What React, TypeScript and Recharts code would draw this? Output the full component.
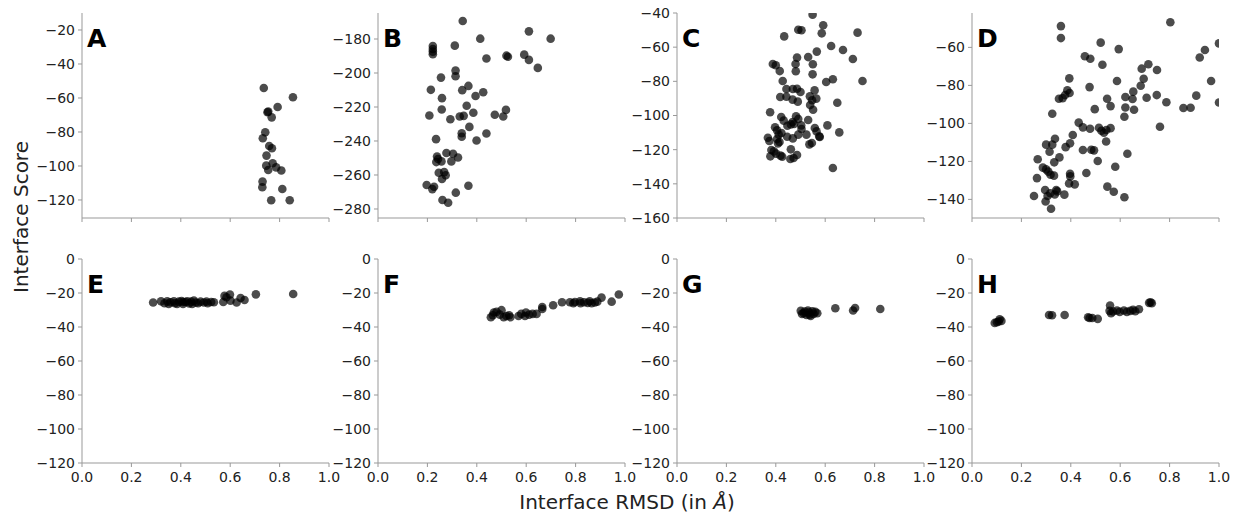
import { ScatterChart, Scatter, XAxis, YAxis } from 'recharts'

// Interface RMSD (Å) vs interface score, one array per panel: [rmsd, score]
const panelA: [number, number][] = [
  [0.736, -54.1], [0.854, -59.6], [0.792, -65.3], [0.751, -68.4], [0.754, -68.0], [0.768, -71.4],
  [0.742, -80.2], [0.732, -83.7], [0.758, -88.2], [0.769, -89.6], [0.747, -93.9], [0.746, -99.8],
  [0.772, -98.4], [0.754, -102.4], [0.786, -100.8], [0.807, -102.7], [0.731, -109.2], [0.730, -112.5],
  [0.811, -113.5], [0.766, -120.2], [0.841, -120.2],
]

const panelB: [number, number][] = [
  [0.343, -169.4], [0.611, -175.5], [0.699, -179.8], [0.414, -179.8], [0.222, -184.1], [0.222, -185.9],
  [0.222, -187.4], [0.222, -189.0], [0.311, -183.9], [0.439, -191.5], [0.520, -189.8], [0.526, -190.4],
  [0.592, -189.2], [0.611, -192.3], [0.647, -197.0], [0.314, -198.6], [0.314, -201.9], [0.255, -202.7],
  [0.214, -209.9], [0.341, -210.1], [0.366, -207.6], [0.426, -211.3], [0.395, -213.5], [0.259, -214.8],
  [0.359, -219.3], [0.258, -221.5], [0.208, -225.0], [0.293, -227.2], [0.331, -225.6], [0.347, -225.2],
  [0.386, -223.4], [0.473, -224.6], [0.507, -225.6], [0.518, -221.7], [0.370, -231.7], [0.339, -235.4],
  [0.339, -237.5], [0.439, -235.6], [0.235, -238.9], [0.399, -239.7], [0.277, -247.1], [0.304, -247.5],
  [0.324, -249.7], [0.239, -249.1], [0.243, -250.6], [0.236, -252.4], [0.257, -252.0], [0.297, -252.0],
  [0.246, -258.7], [0.268, -258.3], [0.274, -260.2], [0.259, -262.4], [0.197, -265.9], [0.227, -266.9],
  [0.220, -268.3], [0.366, -266.3], [0.315, -270.4], [0.261, -274.7], [0.284, -276.3],
]

const panelC: [number, number][] = [
  [0.549, -41.0], [0.592, -47.2], [0.491, -49.8], [0.504, -50.1], [0.586, -51.9], [0.731, -51.5],
  [0.434, -53.7], [0.624, -59.3], [0.672, -61.7], [0.566, -62.6], [0.531, -65.8], [0.486, -66.1],
  [0.712, -66.9], [0.480, -69.9], [0.550, -70.0], [0.388, -69.9], [0.400, -70.6], [0.416, -74.0],
  [0.481, -74.1], [0.549, -75.9], [0.631, -78.8], [0.604, -80.4], [0.751, -79.8], [0.428, -79.8],
  [0.443, -84.5], [0.469, -84.5], [0.486, -84.3], [0.500, -86.2], [0.557, -85.3], [0.418, -89.2],
  [0.443, -89.0], [0.538, -88.8], [0.564, -90.1], [0.468, -90.7], [0.489, -91.9], [0.547, -91.1],
  [0.649, -92.5], [0.539, -93.9], [0.551, -96.6], [0.377, -98.1], [0.422, -100.9], [0.482, -100.5],
  [0.432, -103.0], [0.468, -103.8], [0.491, -102.0], [0.531, -102.6], [0.461, -105.2], [0.447, -106.0],
  [0.474, -105.0], [0.503, -105.8], [0.609, -105.8], [0.397, -106.9], [0.504, -107.9], [0.558, -107.3],
  [0.405, -108.7], [0.565, -109.3], [0.423, -110.2], [0.657, -109.9], [0.412, -111.2], [0.491, -111.2],
  [0.524, -111.2], [0.576, -112.2], [0.578, -112.6], [0.446, -112.4], [0.469, -113.4], [0.368, -113.0],
  [0.374, -114.9], [0.405, -113.8], [0.415, -115.5], [0.409, -116.3], [0.546, -116.1], [0.536, -116.9],
  [0.461, -119.8], [0.382, -120.2], [0.392, -121.0], [0.401, -122.3], [0.378, -123.9], [0.419, -123.5],
  [0.486, -123.1], [0.459, -125.5], [0.472, -124.9], [0.631, -130.7], [0.426, -124.1],
]

const panelD: [number, number][] = [
  [0.360, -48.8], [0.360, -55.1], [0.803, -46.8], [0.521, -57.5], [0.594, -60.9], [1.0, -57.9],
  [0.943, -61.4], [0.922, -65.3], [0.457, -64.7], [0.479, -66.0], [0.528, -69.1], [0.714, -68.9],
  [0.687, -71.2], [0.749, -71.9], [0.695, -76.5], [0.394, -76.3], [0.587, -77.7], [0.968, -77.7],
  [0.683, -80.2], [0.476, -80.9], [0.386, -82.6], [0.395, -84.0], [0.653, -83.3], [0.377, -85.1],
  [0.352, -87.0], [0.547, -87.0], [0.621, -86.1], [0.650, -87.2], [0.707, -86.5], [0.748, -85.1],
  [0.908, -85.4], [0.367, -86.7], [0.561, -90.9], [0.787, -88.9], [0.856, -91.9], [0.885, -91.8],
  [1.0, -89.0], [0.497, -92.5], [0.621, -91.6], [0.656, -92.8], [0.325, -94.9], [0.617, -96.5],
  [0.761, -101.8], [0.432, -99.6], [0.449, -102.1], [0.478, -102.8], [0.514, -102.3], [0.524, -103.9],
  [0.544, -103.5], [0.561, -102.5], [0.534, -104.9], [0.408, -106.1], [0.336, -108.1], [0.397, -110.5],
  [0.300, -111.2], [0.325, -111.2], [0.379, -112.5], [0.543, -109.5], [0.314, -114.9], [0.449, -114.0],
  [0.483, -113.9], [0.494, -114.2], [0.629, -116.0], [0.354, -117.9], [0.333, -120.5], [0.509, -119.8],
  [0.266, -118.9], [0.580, -122.8], [0.287, -123.3], [0.300, -124.2], [0.309, -125.4], [0.318, -127.0],
  [0.332, -127.5], [0.397, -126.5], [0.463, -126.1], [0.398, -127.9], [0.263, -128.8], [0.416, -132.1],
  [0.393, -131.6], [0.296, -135.1], [0.341, -135.1], [0.345, -135.8], [0.335, -137.4], [0.374, -137.5],
  [0.548, -133.3], [0.574, -136.0], [0.251, -138.2], [0.306, -138.2], [0.298, -141.1], [0.617, -138.9],
  [0.320, -144.9], [0.317, -136.8],
]

const panelE: [number, number][] = [
  [0.288, -25.6], [0.320, -24.9], [0.334, -26.0], [0.345, -24.9], [0.351, -26.4], [0.358, -25.4],
  [0.372, -24.9], [0.376, -26.0], [0.385, -26.4], [0.392, -25.1], [0.403, -24.7], [0.409, -26.4],
  [0.409, -25.3], [0.419, -25.3], [0.426, -24.9], [0.434, -26.2], [0.442, -25.1], [0.446, -26.4],
  [0.453, -24.5], [0.461, -25.6], [0.470, -26.0], [0.480, -25.1], [0.493, -25.6], [0.504, -25.1],
  [0.509, -26.0], [0.523, -25.3], [0.534, -25.4], [0.572, -25.3], [0.577, -21.7], [0.585, -22.5],
  [0.599, -20.9], [0.601, -24.5], [0.626, -25.6], [0.642, -22.9], [0.658, -24.1], [0.704, -20.8],
  [0.855, -20.6],
]

const panelF: [number, number][] = [
  [0.457, -34.3], [0.465, -33.1], [0.469, -31.5], [0.480, -31.1], [0.500, -30.1], [0.493, -32.7],
  [0.509, -34.3], [0.520, -33.5], [0.536, -34.3], [0.531, -33.1], [0.569, -33.5], [0.580, -32.3],
  [0.595, -33.5], [0.599, -31.5], [0.612, -32.7], [0.626, -32.3], [0.642, -32.3], [0.665, -29.4],
  [0.665, -28.2], [0.709, -27.2], [0.745, -25.4], [0.777, -25.4], [0.791, -26.0], [0.797, -25.3],
  [0.818, -24.9], [0.820, -26.0], [0.834, -25.4], [0.849, -25.8], [0.857, -24.9], [0.865, -26.0],
  [0.878, -25.6], [0.888, -25.1], [0.905, -22.7], [0.946, -25.1], [0.975, -20.9],
]

const panelG: [number, number][] = [
  [0.501, -30.5], [0.506, -32.3], [0.513, -31.9], [0.517, -30.9], [0.524, -32.9], [0.530, -30.3],
  [0.534, -31.5], [0.537, -32.7], [0.541, -33.5], [0.548, -30.7], [0.553, -32.3], [0.560, -31.1],
  [0.568, -31.9], [0.641, -29.0], [0.713, -30.3], [0.721, -28.8], [0.823, -29.4],
]

const panelH: [number, number][] = [
  [0.092, -37.6], [0.101, -37.2], [0.108, -36.8], [0.112, -35.4], [0.119, -36.4], [0.312, -32.9],
  [0.324, -33.1], [0.375, -32.9], [0.470, -34.3], [0.476, -34.7], [0.487, -34.7], [0.509, -35.2],
  [0.559, -27.4], [0.557, -30.5], [0.563, -31.9], [0.571, -30.9], [0.587, -30.3], [0.598, -31.1],
  [0.615, -30.3], [0.627, -31.1], [0.641, -30.5], [0.652, -29.9], [0.661, -30.7], [0.676, -29.6],
  [0.717, -25.8], [0.723, -25.4], [0.728, -26.0],
]

const X_TICKS = [0, 0.2, 0.4, 0.6, 0.8, 1.0]
const TICKS_A = [-120, -100, -80, -60, -40, -20]
const TICKS_B = [-280, -260, -240, -220, -200, -180]
const TICKS_C = [-160, -140, -120, -100, -80, -60, -40]
const TICKS_D = [-140, -120, -100, -80, -60]
const TICKS_LOW = [-120, -100, -80, -60, -40, -20, 0]

const FONT = 'DejaVu Sans'
const SPINE = '#999'
const AXIS_TICK = { fontSize: 14, fill: '#222', fontFamily: FONT }
const PLOT_W = 247
const Y_AXIS_W = 70
const PAD = 8
const PAD_R = 16 // room for the "1.0" label past the right spine

const fmtY = (v: number) => String(v).replace('-', '\u2212')
const fmtX = (v: number) => v.toFixed(1)
const noLabel = () => ''

// eslint-disable-next-line @typescript-eslint/no-explicit-any
const Dot = (p: any) => <circle cx={p.cx} cy={p.cy} r={4.3} fill="#000" fillOpacity={0.7} />

interface PanelProps {
  letter: string
  left: number
  top: number
  height: number
  points: [number, number][]
  domain: [number, number]
  ticks: number[]
  showX: boolean
}

function Panel({ left, top, height, points, domain, ticks, showX }: PanelProps) {
  const data = points.map(([x, y]) => ({ x, y }))
  return (
    <div style={{ position: 'absolute', left: left - Y_AXIS_W, top: top - PAD }}>
      <ScatterChart
        width={Y_AXIS_W + PLOT_W + PAD_R}
        height={PAD + height + 30}
        margin={{ top: PAD, right: PAD_R, bottom: 0, left: 0 }}
      >
        <XAxis
          dataKey="x" type="number" domain={[0, 1]} ticks={X_TICKS} allowDataOverflow interval={0}
          height={30} tickSize={4} tickMargin={5} stroke={SPINE} tick={AXIS_TICK}
          tickFormatter={showX ? fmtX : noLabel}
        />
        <YAxis
          dataKey="y" type="number" domain={domain} ticks={ticks} allowDataOverflow interval={0}
          width={Y_AXIS_W} tickSize={4} tickMargin={3} stroke={SPINE} tick={AXIS_TICK}
          tickFormatter={fmtY}
        />
        <XAxis
          xAxisId="top" orientation="top" type="number" domain={[0, 1]} height={0}
          tick={false} tickLine={false} stroke={SPINE}
        />
        <YAxis
          yAxisId="right" orientation="right" type="number" domain={domain} width={0}
          tick={false} tickLine={false} stroke={SPINE}
        />
        <Scatter data={data} shape={Dot} isAnimationActive={false} />
      </ScatterChart>
    </div>
  )
}

const COL_LEFT = [82, 378, 677, 972]
const ROW_TOP = [13, 259]
const ROW_H = [205, 204]

const PANELS: PanelProps[] = [
  { letter: 'A', left: COL_LEFT[0], top: ROW_TOP[0], height: ROW_H[0], points: panelA, domain: [-130.6, -10], ticks: TICKS_A, showX: false },
  { letter: 'B', left: COL_LEFT[1], top: ROW_TOP[0], height: ROW_H[0], points: panelB, domain: [-285.3, -164.7], ticks: TICKS_B, showX: false },
  { letter: 'C', left: COL_LEFT[2], top: ROW_TOP[0], height: ROW_H[0], points: panelC, domain: [-160, -40], ticks: TICKS_C, showX: false },
  { letter: 'D', left: COL_LEFT[3], top: ROW_TOP[0], height: ROW_H[0], points: panelD, domain: [-149.8, -41.9], ticks: TICKS_D, showX: false },
  { letter: 'E', left: COL_LEFT[0], top: ROW_TOP[1], height: ROW_H[1], points: panelE, domain: [-120, 0], ticks: TICKS_LOW, showX: true },
  { letter: 'F', left: COL_LEFT[1], top: ROW_TOP[1], height: ROW_H[1], points: panelF, domain: [-120, 0], ticks: TICKS_LOW, showX: true },
  { letter: 'G', left: COL_LEFT[2], top: ROW_TOP[1], height: ROW_H[1], points: panelG, domain: [-120, 0], ticks: TICKS_LOW, showX: true },
  { letter: 'H', left: COL_LEFT[3], top: ROW_TOP[1], height: ROW_H[1], points: panelH, domain: [-120, 0], ticks: TICKS_LOW, showX: true },
]

export default function App() {
  return (
    <div style={{ position: 'absolute', left: 0, top: 0, width: 1236, height: 516, background: '#fff', fontFamily: FONT }}>
      {PANELS.map(p => <Panel key={p.letter} {...p} />)}
      <svg width={1236} height={516} style={{ position: 'absolute', left: 0, top: 0, pointerEvents: 'none' }}>
        {PANELS.map(p => (
          <text key={p.letter} x={p.left + 5} y={p.top + 34} fontSize={25} fontWeight="bold" fontFamily={FONT} fill="#000">
            {p.letter}
          </text>
        ))}
        <text transform="rotate(-90)" x={-217} y={28} textAnchor="middle" fontSize={20} fontFamily={FONT} fill="#222">
          Interface Score
        </text>
        <text x={627} y={509} textAnchor="middle" fontSize={20} fontFamily={FONT} fill="#222">
          Interface RMSD (in <tspan fontStyle="italic">Å</tspan>)
        </text>
      </svg>
    </div>
  )
}
